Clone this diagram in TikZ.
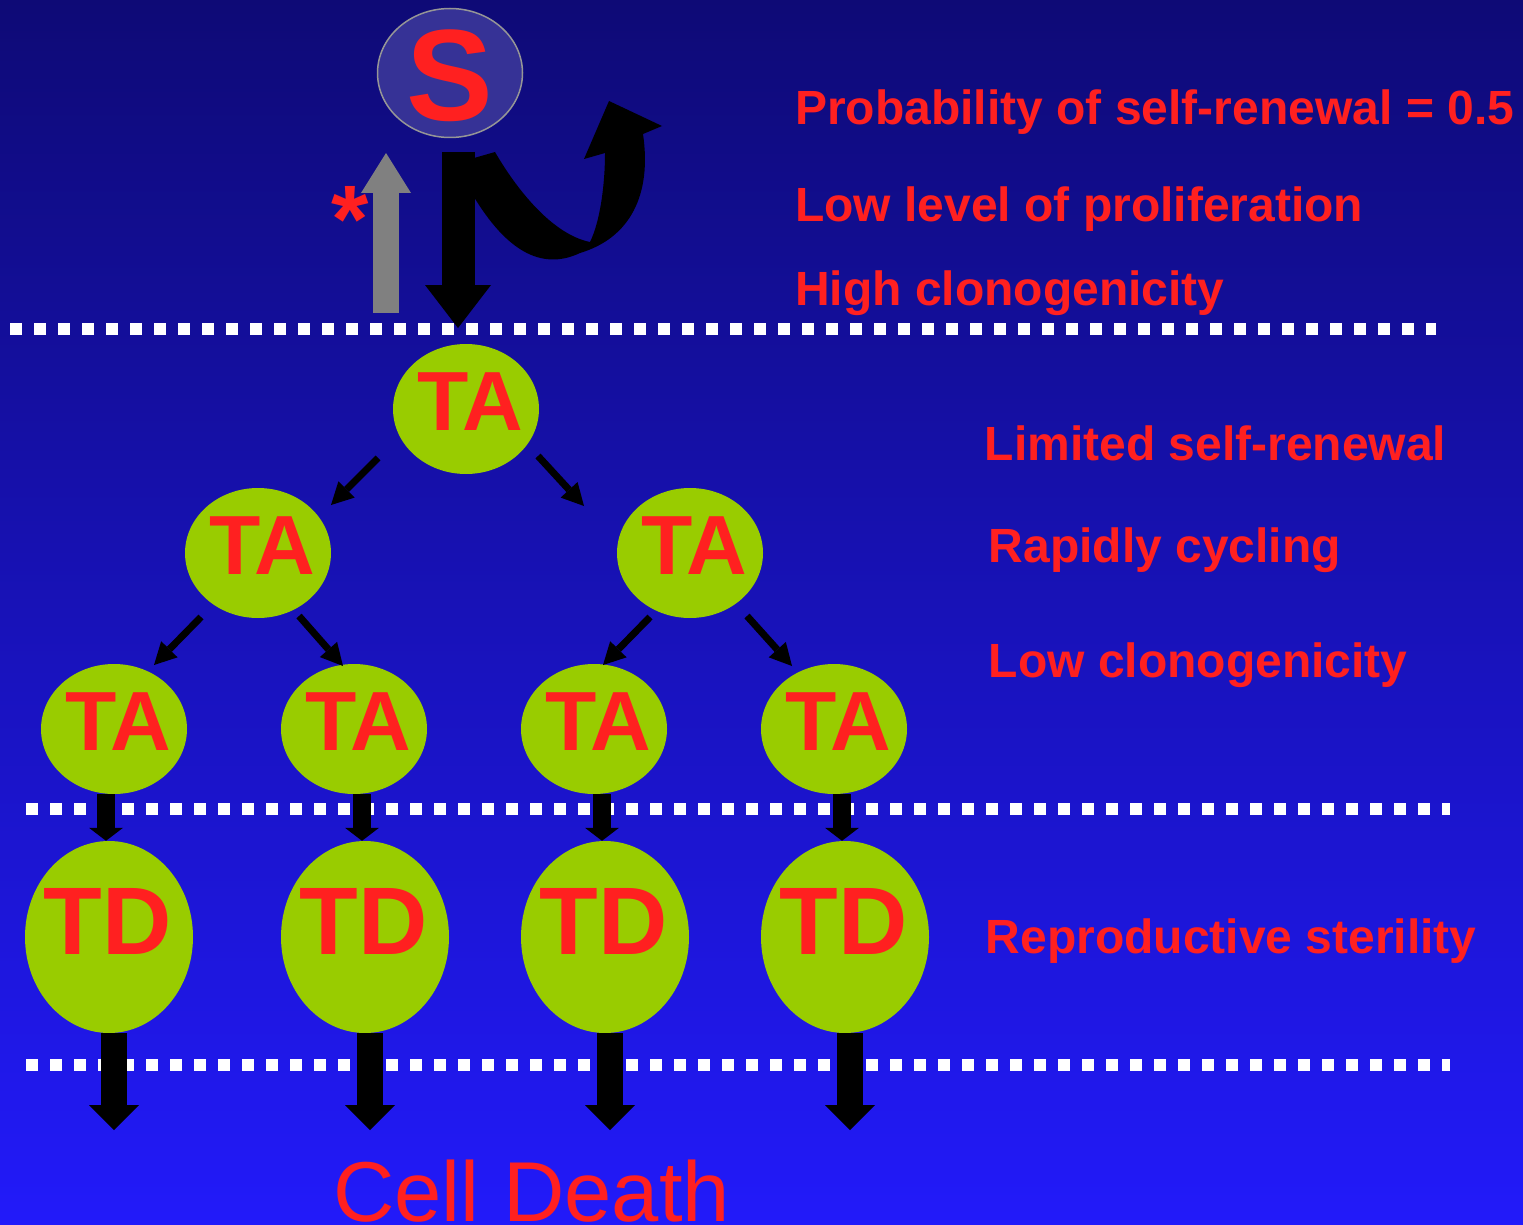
\documentclass[tikz,border=0pt]{standalone}
\usepackage{fontspec}
\setmainfont{Liberation Sans}
\usetikzlibrary{shapes.geometric,arrows.meta,calc}
\definecolor{bgtop}{RGB}{14,10,118}
\definecolor{bgbot}{RGB}{34,26,250}
\definecolor{cellred}{RGB}{255,32,32}
\definecolor{cellgreen}{RGB}{153,204,0}
\definecolor{stemfill}{RGB}{54,50,150}
\definecolor{stemrim}{RGB}{150,150,150}
\definecolor{returngray}{RGB}{128,128,128}

\begin{document}
\begin{tikzpicture}[x=1pt,y=-1pt,
  stemcell/.style={ellipse, fill=stemfill, draw=stemrim, line width=1.5pt,
    minimum width=145pt, minimum height=129pt, inner sep=0pt},
  tacell/.style={ellipse, fill=cellgreen, minimum width=146pt, minimum height=130pt, inner sep=0pt},
  tdcell/.style={ellipse, fill=cellgreen, minimum width=168pt, minimum height=192pt, inner sep=0pt},
  celllabel/.style={anchor=base, text=cellred, inner sep=0pt, font=\fontsize{84}{84}\selectfont\bfseries},
  tdlabel/.style={celllabel, font=\fontsize{96}{96}\selectfont\bfseries},
  notetext/.style={anchor=base west, text=cellred, inner sep=0pt, font=\fontsize{48}{56}\selectfont\bfseries},
  boundaryline/.style={white, line width=12pt, dash pattern=on 12pt off 12pt},
  splitarrow/.style={black, line width=7pt, -{Triangle[width=23pt,length=22pt,line width=0pt]}},
  commitarrow/.style={black, line width=18pt, -{Triangle[width=34pt,length=13pt,line width=0pt]}},
  deatharrow/.style={black, line width=26pt, -{Triangle[width=50pt,length=25pt,line width=0pt]}},
]
% background
\useasboundingbox (0,0) rectangle (1523,1225);
\shade[top color=bgtop, bottom color=bgbot] (0,0) rectangle (1523,1225);

% compartment boundaries
\coordinate (b1a) at (10,329);   \coordinate (b1b) at (1436,329);
\coordinate (b2a) at (26,809);   \coordinate (b2b) at (1450,809);
\coordinate (b3a) at (26,1065);  \coordinate (b3b) at (1450,1065);
\draw[boundaryline] (b1a) -- (b1b);
\draw[boundaryline] (b2a) -- (b2b);
\draw[boundaryline] (b3a) -- (b3b);

% stem cell
\node[stemcell] (s) at (450,73) {};
\path (s.center) ++(0,48) node[anchor=base, text=cellred, inner sep=0pt,
  font=\fontsize{130}{130}\selectfont\bfseries] (slabel) {S};

% transit amplifying cells
\node[tacell] (ta1)  at (466,409) {};
\node[tacell] (ta21) at (258,553) {};
\node[tacell] (ta22) at (690,553) {};
\node[tacell] (ta31) at (114,729) {};
\node[tacell] (ta32) at (354,729) {};
\node[tacell] (ta33) at (594,729) {};
\node[tacell] (ta34) at (834,729) {};
\foreach \c in {ta1,ta21,ta22,ta31,ta32,ta33,ta34}{
  \path (\c.center) ++(4,21) node[celllabel] (\c-l) {TA};
}

% terminally differentiated cells
\node[tdcell] (td1) at (109,937) {};
\node[tdcell] (td2) at (365,937) {};
\node[tdcell] (td3) at (605,937) {};
\node[tdcell] (td4) at (845,937) {};
\foreach \c in {td1,td2,td3,td4}{
  \path (\c.center) ++(-1.5,17) node[tdlabel] (\c-l) {TD};
}

% divisions
\coordinate (sp1a) at (378,458); \coordinate (sp1b) at (331,505);
\coordinate (sp2a) at (538,456); \coordinate (sp2b) at (584,506);
\coordinate (sp3a) at (201,617); \coordinate (sp3b) at (154,665);
\coordinate (sp4a) at (299,616); \coordinate (sp4b) at (343,666);
\coordinate (sp5a) at (650,617); \coordinate (sp5b) at (603,665);
\coordinate (sp6a) at (747,616); \coordinate (sp6b) at (792,666);
\foreach \k in {1,...,6}{
  \draw[splitarrow] (sp\k a) -- (sp\k b);
}

% differentiation
\foreach \a/\d [count=\k] in {ta31/td1,ta32/td2,ta33/td3,ta34/td4}{
  \coordinate (in\k) at ([xshift=-3pt]\d.north);
  \draw[commitarrow] (in\k |- \a.south) -- (in\k);
}

% cell death
\coordinate (dead1) at (114,1130);
\coordinate (dead2) at (370,1130);
\coordinate (dead3) at (610,1130);
\coordinate (dead4) at (850,1130);
\foreach \d [count=\k] in {td1,td2,td3,td4}{
  \draw[deatharrow] ([xshift=5pt]\d.south) -- (dead\k);
}

% stem cell exit and return
\coordinate (sd0) at (458,152); \coordinate (sd1) at (458,328);
\draw[black, line width=33pt, -{Triangle[width=66pt,length=43pt,line width=0pt]}] (sd0) -- (sd1);
\coordinate (fb0) at (386,313); \coordinate (fb1) at (386,153);
\draw[returngray, line width=26pt, -{Triangle[width=50pt,length=40pt,line width=0pt]}] (fb0) -- (fb1);
\node[anchor=base, text=cellred, inner sep=0pt, font=\fontsize{96}{96}\selectfont\bfseries] (star) at (350,252) {*};

% self-renewal loop
\fill[black] (474,158) -- (495,152) .. controls (520,195) and (555,235) .. (590,242)
  .. controls (600,222) and (605,185) .. (605,153) -- (584,159) -- (609,101) -- (662,126)
  -- (643,134) .. controls (652,195) and (630,238) .. (580,253)
  .. controls (540,272) and (505,248) .. (474,197) -- cycle;

% properties
\node[notetext] (p1) at (795,125) {Probability of self-renewal = 0.5};
\node[notetext] (p2) at (795,222) {Low level of proliferation};
\node[notetext] (p3) at (795,305) {High clonogenicity};
\node[notetext] (t1) at (984.5,460) {Limited self-renewal};
\node[notetext] (t2) at (988.5,562) {Rapidly cycling};
\node[notetext] (t3) at (988.5,677) {Low clonogenicity};
\node[notetext] (d1) at (985.5,953) {Reproductive sterility};
\node[anchor=base west, text=cellred, inner sep=0pt, font=\fontsize{85}{85}\selectfont] (death) at (333,1221) {Cell Death};
\end{tikzpicture}
\end{document}
